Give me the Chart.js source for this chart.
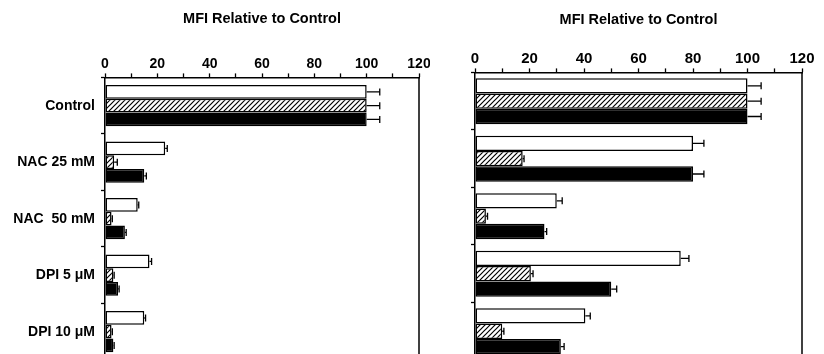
<!DOCTYPE html>
<html>
<head>
<meta charset="utf-8">
<script src="https://cdn.jsdelivr.net/npm/chart.js@4"></script>
<style>
  html, body { margin: 0; padding: 0; background: #fff; overflow: hidden; }
  #wrap { position: relative; width: 824px; height: 354px; overflow: hidden; }
  #left { position: absolute; left: 0; top: 0; }
  #right { position: absolute; left: 430px; top: 0; }
</style>
</head>
<body>
<div id="wrap">
  <canvas id="left" width="430" height="360"></canvas>
  <canvas id="right" width="394" height="360"></canvas>
</div>
<script>
// categories (rows)
const categories = ["Control", "NAC 25 mM", "NAC  50 mM", "DPI 5 \u03bcM", "DPI 10 \u03bcM"];
const xTicks = [0, 20, 40, 60, 80, 100, 120];

// left panel
const openLeft = [100, 23, 12.5, 17, 15];
const hatchLeft = [100, 3.5, 2.5, 3.2, 2.5];
const solidLeft = [100, 15, 7.6, 5, 3.2];
const openLeftErr = [5, 0.8, 0.4, 0.8, 0.5];
const hatchLeftErr = [5, 1.2, 0.3, 0.3, 0.3];
const solidLeftErr = [5, 0.8, 0.5, 0.4, 0.3];

// right panel
const openRight = [100, 80, 30, 75.5, 40.5];
const hatchRight = [100, 17.5, 4, 20.5, 10];
const solidRight = [100, 80, 25.5, 50, 31.5];
const openRightErr = [5, 4, 2, 3, 1.8];
const hatchRightErr = [5, 0.5, 0.6, 0.8, 0.6];
const solidRightErr = [5, 4, 0.8, 2, 1.2];

const FONT = "'Liberation Sans', Arial, Helvetica, sans-serif";

// diagonal hatch fill
function makeHatch() {
  const c = document.createElement("canvas");
  c.width = 5;
  c.height = 5;
  const g = c.getContext("2d");
  g.fillStyle = "#fff";
  g.fillRect(0, 0, 5, 5);
  g.strokeStyle = "#000";
  g.lineWidth = 1.2;
  g.beginPath();
  g.moveTo(0, 5); g.lineTo(5, 0);
  g.moveTo(-1, 1); g.lineTo(1, -1);
  g.moveTo(4, 6); g.lineTo(6, 4);
  g.stroke();
  return g.createPattern(c, "repeat");
}
const hatch = makeHatch();

// error bars (positive side only) + right frame line
const errorBars = {
  id: "errorBars",
  afterDatasetsDraw(chart) {
    const ctx = chart.ctx;
    const xs = chart.scales.x;
    const area = chart.chartArea;
    ctx.save();
    ctx.strokeStyle = "#000";
    ctx.lineWidth = 1.5;
    ctx.beginPath();
    ctx.moveTo(area.right, area.top);
    ctx.lineTo(area.right, area.bottom);
    ctx.stroke();
    ctx.lineWidth = 1.3;
    chart.data.datasets.forEach((ds, i) => {
      const meta = chart.getDatasetMeta(i);
      meta.data.forEach((bar, j) => {
        const end = xs.getPixelForValue(ds.data[j] + ds.errors[j]);
        ctx.beginPath();
        ctx.moveTo(bar.x, bar.y);
        ctx.lineTo(end, bar.y);
        ctx.moveTo(end, bar.y - 3.5);
        ctx.lineTo(end, bar.y + 3.5);
        ctx.stroke();
      });
    });
    ctx.restore();
  },
};

function makeChart(id, opts) {
  const datasets = [
    { data: opts.open, errors: opts.openErr, backgroundColor: "#fff" },
    { data: opts.hatch, errors: opts.hatchErr, backgroundColor: hatch },
    { data: opts.solid, errors: opts.solidErr, backgroundColor: "#000" },
  ].map((d) => ({
    ...d,
    borderColor: "#000",
    borderWidth: 1.5,
    borderSkipped: false,
    barPercentage: 1,
    categoryPercentage: opts.groupFrac,
  }));

  return new Chart(document.getElementById(id), {
    type: "bar",
    data: { labels: categories, datasets: datasets },
    options: {
      indexAxis: "y",
      responsive: false,
      animation: false,
      events: [],
      layout: { padding: { left: 0, right: opts.padRight, top: 0, bottom: 0 } },
      plugins: {
        legend: { display: false },
        tooltip: { enabled: false },
        title: {
          display: true,
          fullSize: false,
          text: "MFI Relative to Control",
          color: "#000",
          font: { family: FONT, size: 14.5, weight: "bold" },
          padding: { top: opts.titleTop, bottom: 0 },
        },
      },
      scales: {
        x: {
          position: "top",
          min: 0,
          max: 120,
          afterFit: (s) => {
            s.height = opts.xAxisHeight;
            s.paddingLeft = 0;
            s.paddingRight = 0;
          },
          afterBuildTicks: (s) => {
            const t = [];
            for (let v = 0; v <= 120; v += 10) t.push({ value: v });
            s.ticks = t;
          },
          ticks: {
            autoSkip: false,
            maxRotation: 0,
            padding: 1,
            color: "#000",
            font: { family: FONT, size: opts.tickSize, weight: "bold" },
            callback: (v) => (xTicks.includes(v) ? String(v) : ""),
          },
          grid: { drawOnChartArea: false, tickLength: 4, tickColor: "#000", tickWidth: 1.3 },
          border: { display: true, color: "#000", width: 1.5 },
        },
        y: {
          afterFit: (s) => {
            s.width = opts.yAxisWidth;
            s.paddingTop = 0;
            s.paddingBottom = 0;
          },
          ticks: {
            display: opts.showLabels,
            padding: 6,
            color: "#000",
            font: { family: FONT, size: 14, weight: "bold" },
          },
          grid: { drawOnChartArea: false, tickLength: 4, tickColor: "#000", tickWidth: 1.3, offset: true },
          border: { display: true, color: "#000", width: 1.5 },
        },
      },
    },
    plugins: [errorBars],
  });
}

makeChart("left", {
  open: openLeft, hatch: hatchLeft, solid: solidLeft,
  openErr: openLeftErr, hatchErr: hatchLeftErr, solidErr: solidLeftErr,
  groupFrac: 0.73,
  padRight: 11,
  yAxisWidth: 105,
  titleTop: 10,
  xAxisHeight: 50,
  tickSize: 14,
  showLabels: true,
});

makeChart("right", {
  open: openRight, hatch: hatchRight, solid: solidRight,
  openErr: openRightErr, hatchErr: hatchRightErr, solidErr: solidRightErr,
  groupFrac: 0.8,
  padRight: 22,
  yAxisWidth: 45,
  titleTop: 11,
  xAxisHeight: 44,
  tickSize: 15,
  showLabels: false,
});
</script>
</body>
</html>
